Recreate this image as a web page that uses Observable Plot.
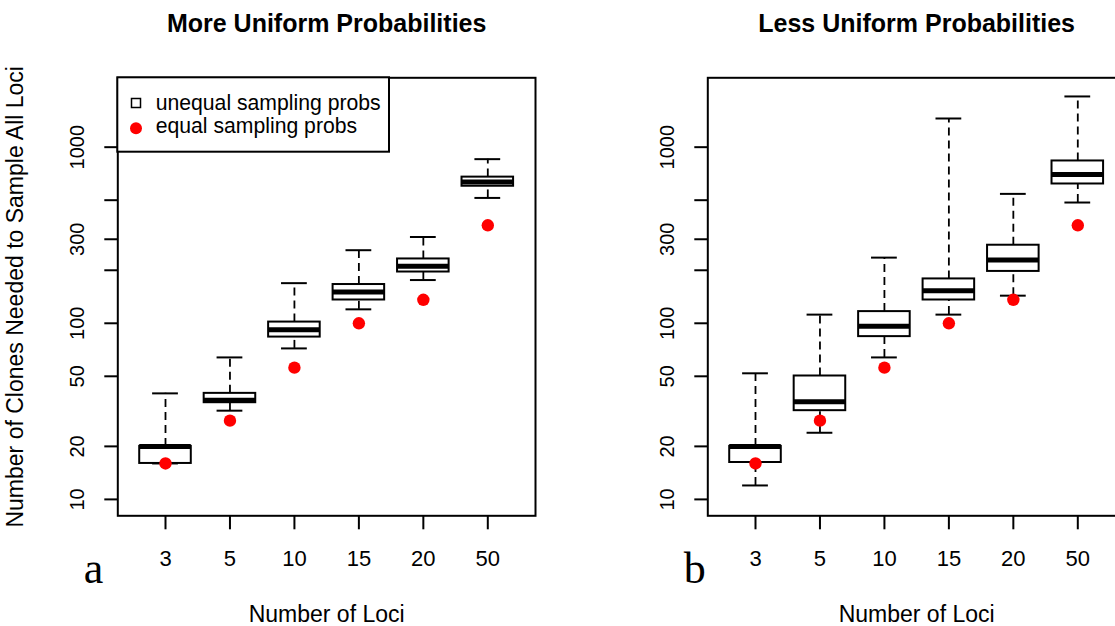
<!DOCTYPE html>
<html><head><meta charset="utf-8">
<script src="https://cdn.jsdelivr.net/npm/d3@7"></script>
<script src="https://cdn.jsdelivr.net/npm/@observablehq/plot@0.6"></script>
<style>
html,body{margin:0;padding:0;background:#fff;overflow:hidden}
#wrap{position:relative;width:1115px;height:626px;overflow:hidden;background:#fff}
.panel{position:absolute;top:0}
</style></head><body><div id="wrap"></div>
<script>
// Categories
const loci = ["3", "5", "10", "15", "20", "50"];

// Panel a: More Uniform Probabilities (box summaries of unequal sampling probs)
const moreLow  = [16, 31.9, 72, 120, 176, 515];
const moreQ1   = [16, 35.4, 83.5, 135.6, 195.5, 600];
const moreMed  = [20, 36.5, 92, 150.6, 210.7, 635];
const moreQ3   = [20, 40, 101.6, 166, 231.9, 676];
const moreHigh = [40, 64, 169, 260, 309, 855];

// Panel b: Less Uniform Probabilities
const lessLow  = [12, 23.9, 64, 112, 143.5, 485];
const lessQ1   = [16.2, 31.9, 84, 135.6, 197, 618];
const lessMed  = [20, 35.9, 96.2, 152.8, 229, 700];
const lessQ3   = [20, 50.2, 116.5, 178.6, 277.5, 835];
const lessHigh = [52, 112, 236, 1455, 543, 1941];

// Equal sampling probs (red points)
const equalProbs = [16, 28, 56, 100, 136, 360];

// Axis ticks
const yTicks = [10, 20, 50, 100, 200, 300, 500, 1000];
const yLabels = [10, 20, 50, 100, 300, 1000];
const xTicks = [1, 2, 3, 4, 5, 6];

const FONT = "Liberation Sans, Arial, Helvetica, sans-serif";

function panel(title, letter, letterDx, low, q1, med, q3, high, eq, showYLabel) {
  const rows = loci.map((l, i) => ({pos: i + 1, low: low[i], q1: q1[i], med: med[i], q3: q3[i], high: high[i], eq: eq[i]}));
  const marks = [
    Plot.ruleX(rows, {x: "pos", y1: "q3", y2: "high", stroke: "black", strokeWidth: 1.8, strokeDasharray: "8,5"}),
    Plot.ruleX(rows, {x: "pos", y1: "low", y2: "q1", stroke: "black", strokeWidth: 1.8, strokeDasharray: "8,5"}),
    Plot.ruleY(rows, {y: "high", x1: d => d.pos - 0.2, x2: d => d.pos + 0.2, stroke: "black", strokeWidth: 2}),
    Plot.ruleY(rows, {y: "low", x1: d => d.pos - 0.2, x2: d => d.pos + 0.2, stroke: "black", strokeWidth: 2}),
    Plot.rect(rows, {x1: d => d.pos - 0.4, x2: d => d.pos + 0.4, y1: "q1", y2: "q3", fill: "white", stroke: "black", strokeWidth: 2}),
    Plot.ruleY(rows, {y: "med", x1: d => d.pos - 0.4, x2: d => d.pos + 0.4, stroke: "black", strokeWidth: 5}),
    Plot.dot(rows, {x: "pos", y: "eq", r: 6.2, fill: "#ff0000", stroke: null}),
    Plot.frame({stroke: "black", strokeWidth: 2}),
    Plot.axisY({ticks: yTicks, tickSize: 13, tickFormat: () => "", strokeWidth: 2, label: null}),
    Plot.text(yLabels, {y: d => d, text: d => String(d), frameAnchor: "left", dx: -34, rotate: -90,
      lineAnchor: "bottom", textAnchor: "middle", fontSize: 20, fill: "black"}),
    Plot.axisX({ticks: xTicks, tickSize: 14, tickPadding: 21, tickFormat: i => loci[i - 1],
      fontSize: 22, strokeWidth: 2, label: null}),
    Plot.text([title], {text: d => d, frameAnchor: "top", dx: 0, dy: -46, lineAnchor: "bottom",
      fontWeight: "bold", fontSize: 25, fill: "black"}),
    Plot.text(["Number of Loci"], {text: d => d, frameAnchor: "bottom", dx: 0, dy: 106, lineAnchor: "bottom",
      fontSize: 23, fill: "black"}),
    Plot.text([letter], {text: d => d, frameAnchor: "bottom-left", dx: letterDx, dy: 67, lineAnchor: "bottom",
      textAnchor: "start", fontSize: 44, fontFamily: "Liberation Serif, Times New Roman, serif", fill: "black"})
  ];
  if (showYLabel) {
    marks.push(Plot.text(["Number of Clones Needed to Sample All Loci"], {text: d => d, frameAnchor: "left", dx: -95,
      rotate: -90, lineAnchor: "bottom", textAnchor: "middle", fontSize: 23, fill: "black"}));
  }
  return Plot.plot({
    width: 590,
    height: 626,
    marginLeft: 117.3,
    marginRight: 55,
    marginTop: 77.3,
    marginBottom: 110.7,
    style: {fontFamily: FONT, fontSize: "22px", background: "white", color: "black", overflow: "visible"},
    x: {type: "linear", domain: [0.26, 6.74]},
    y: {type: "log", domain: [8.07, 2477]},
    marks
  });
}

const wrap = document.getElementById("wrap");
const a = panel("More Uniform Probabilities", "a", -34, moreLow, moreQ1, moreMed, moreQ3, moreHigh, equalProbs, true);
a.classList.add("panel"); a.style.left = "0px";
wrap.appendChild(a);
const b = panel("Less Uniform Probabilities", "b", -24, lessLow, lessQ1, lessMed, lessQ3, lessHigh, equalProbs, false);
b.classList.add("panel"); b.style.left = "590px";
wrap.appendChild(b);

// Legend (panel a)
const leg = d3.create("svg").attr("width", 276).attr("height", 78)
  .style("position", "absolute").style("left", "116px").style("top", "76px");
leg.append("rect").attr("x", 1.3).attr("y", 1.3).attr("width", 271.7).attr("height", 74.4)
  .attr("fill", "white").attr("stroke", "black").attr("stroke-width", 2);
leg.append("rect").attr("x", 15.5).attr("y", 22.5).attr("width", 9).attr("height", 9)
  .attr("fill", "none").attr("stroke", "black").attr("stroke-width", 1.5);
leg.append("circle").attr("cx", 20).attr("cy", 52.3).attr("r", 6).attr("fill", "#ff0000");
const legendLabels = ["unequal sampling probs", "equal sampling probs"];
leg.selectAll("text.l").data(legendLabels).join("text")
  .attr("x", 39.7).attr("y", (d, i) => i === 0 ? 33.5 : 57.3)
  .attr("font-family", FONT).attr("font-size", 21.2).attr("fill", "black").text(d => d);
wrap.appendChild(leg.node());
</script></body></html>
